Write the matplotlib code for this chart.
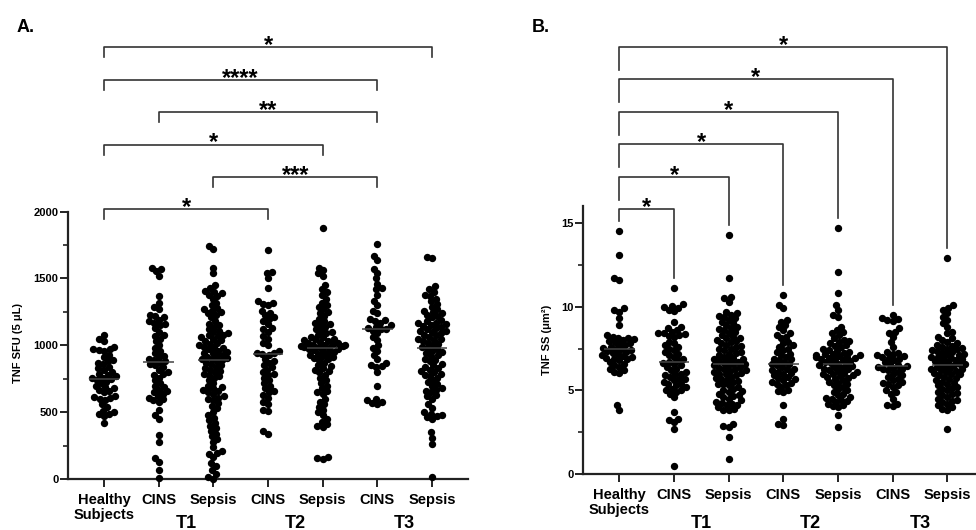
import matplotlib.pyplot as plt
import matplotlib.transforms as mtransforms
from matplotlib.ticker import MultipleLocator
import numpy as np
import pandas as pd
import seaborn as sns

groups = ['HS', 'CINS_T1', 'Sepsis_T1', 'CINS_T2', 'Sepsis_T2', 'CINS_T3', 'Sepsis_T3']
tick_labels = ['Healthy\nSubjects', 'CINS', 'Sepsis', 'CINS', 'Sepsis', 'CINS', 'Sepsis']
time_labels = ['T1', 'T2', 'T3']
time_pos = [1.5, 3.5, 5.5]

# TNF spot forming units per 5 uL
sfu_hs = [1080, 1050, 1030, 990, 975, 970, 965, 960, 930, 910, 890, 880, 870, 860, 840, 830,
          820, 800, 790, 780, 770, 760, 755, 750, 745, 730, 720, 700, 690, 680, 670, 660,
          650, 620, 615, 610, 600, 595, 560, 540, 510, 500, 490, 485, 470, 420]
sfu_cins_t1 = [1580, 1570, 1555, 1520, 1370, 1320, 1290, 1270, 1230, 1220, 1210, 1190, 1180,
               1170, 1160, 1150, 1130, 1100, 1080, 1070, 1050, 1030, 1000, 980, 960, 940, 920,
               910, 900, 890, 880, 870, 860, 850, 840, 820, 800, 790, 780, 760, 740, 720, 700,
               690, 670, 660, 650, 640, 620, 610, 600, 590, 580, 520, 480, 450, 330, 280, 160,
               130, 70, 10]
sfu_sepsis_t1 = [1740, 1720, 1580, 1540, 1450, 1430, 1410, 1400, 1390, 1380, 1370, 1350, 1320,
                 1300, 1280, 1270, 1260, 1250, 1240, 1230, 1210, 1180, 1160, 1150, 1140, 1120,
                 1110, 1100, 1090, 1080, 1075, 1070, 1060, 1050, 1040, 1030, 1020, 1010, 1000,
                 990, 985, 980, 970, 960, 950, 945, 940, 930, 920, 910, 905, 900, 895, 890, 880,
                 870, 860, 850, 840, 830, 820, 810, 800, 790, 780, 770, 760, 740, 720, 700, 690,
                 680, 670, 660, 650, 640, 620, 610, 600, 590, 570, 550, 530, 500, 480, 460, 440,
                 420, 400, 380, 360, 340, 320, 300, 280, 240, 210, 200, 190, 170, 120, 100, 70,
                 40, 20, 5]
sfu_cins_t2 = [1710, 1550, 1540, 1500, 1430, 1330, 1320, 1310, 1300, 1260, 1240, 1230, 1210,
               1200, 1180, 1160, 1130, 1120, 1100, 1070, 1050, 1020, 1000, 960, 945, 940, 935,
               930, 900, 880, 870, 850, 840, 820, 800, 790, 780, 760, 740, 720, 700, 680, 660,
               650, 630, 610, 580, 560, 520, 510, 360, 340]
sfu_sepsis_t2 = [1880, 1580, 1560, 1540, 1520, 1450, 1420, 1400, 1380, 1350, 1320, 1300, 1290,
                 1270, 1250, 1240, 1220, 1200, 1180, 1170, 1160, 1150, 1140, 1120, 1110, 1100,
                 1090, 1080, 1065, 1060, 1050, 1045, 1040, 1030, 1025, 1020, 1015, 1010, 1005,
                 1000, 1000, 995, 995, 990, 985, 980, 975, 970, 965, 960, 950, 940, 935, 930,
                 920, 910, 905, 900, 890, 870, 850, 845, 830, 820, 810, 800, 780, 760, 740, 720,
                 700, 680, 660, 650, 640, 600, 580, 560, 540, 520, 500, 480, 450, 430, 410, 400,
                 390, 170, 160, 155]
sfu_cins_t3 = [1760, 1670, 1640, 1570, 1540, 1500, 1460, 1430, 1420, 1380, 1330, 1300, 1260,
               1240, 1200, 1190, 1180, 1170, 1150, 1140, 1130, 1125, 1120, 1110, 1090, 1060,
               1040, 1000, 980, 960, 930, 900, 870, 850, 845, 840, 800, 700, 600, 590, 580, 570,
               560]
sfu_sepsis_t3 = [1660, 1655, 1440, 1420, 1400, 1380, 1370, 1350, 1330, 1310, 1290, 1270, 1260,
                 1250, 1240, 1230, 1220, 1210, 1190, 1180, 1170, 1165, 1160, 1150, 1145, 1140,
                 1130, 1120, 1110, 1105, 1100, 1090, 1080, 1075, 1060, 1050, 1045, 1040, 1030,
                 1020, 1010, 1000, 990, 980, 970, 960, 950, 940, 925, 920, 900, 890, 880, 860,
                 850, 840, 830, 820, 810, 800, 790, 780, 775, 760, 740, 725, 710, 700, 680, 670,
                 660, 650, 630, 620, 600, 560, 530, 500, 490, 480, 470, 465, 450, 350, 310, 260,
                 20]

# TNF spot size (um^2)
ss_hs = [14.5, 13.1, 11.7, 11.6, 9.9, 9.8, 9.7, 9.3, 8.9, 8.3, 8.2, 8.15, 8.1, 8.05, 8.0, 7.95,
         7.9, 7.8, 7.75, 7.7, 7.6, 7.55, 7.5, 7.45, 7.4, 7.35, 7.3, 7.25, 7.2, 7.1, 7.05, 7.0,
         6.95, 6.9, 6.85, 6.8, 6.7, 6.6, 6.5, 6.4, 6.3, 6.2, 6.1, 6.05, 4.1, 3.8]
ss_cins_t1 = [11.1, 10.15, 10.05, 10.0, 9.95, 9.8, 9.75, 9.1, 8.8, 8.7, 8.6, 8.5, 8.45, 8.4,
              8.35, 8.3, 8.25, 8.2, 7.9, 7.8, 7.7, 7.6, 7.5, 7.4, 7.3, 7.2, 7.1, 7.0, 6.9, 6.8,
              6.7, 6.65, 6.6, 6.5, 6.4, 6.3, 6.2, 6.1, 6.0, 5.95, 5.9, 5.8, 5.7, 5.65, 5.6, 5.5,
              5.4, 5.35, 5.3, 5.2, 5.1, 5.05, 5.0, 4.9, 4.8, 4.6, 3.7, 3.3, 3.2, 3.1, 2.7, 0.5]
ss_sepsis_t1 = [14.3, 11.7, 10.6, 10.5, 10.3, 9.7, 9.6, 9.5, 9.45, 9.4, 9.3, 9.2, 9.1, 9.0,
                8.9, 8.8, 8.7, 8.65, 8.6, 8.5, 8.4, 8.3, 8.2, 8.15, 8.1, 8.0, 7.95, 7.9, 7.8,
                7.7, 7.65, 7.6, 7.5, 7.45, 7.4, 7.3, 7.25, 7.2, 7.1, 7.0, 6.95, 6.9, 6.85, 6.8,
                6.75, 6.7, 6.65, 6.6, 6.55, 6.5, 6.45, 6.4, 6.35, 6.3, 6.25, 6.2, 6.15, 6.1,
                6.05, 6.0, 5.95, 5.9, 5.8, 5.75, 5.7, 5.6, 5.55, 5.5, 5.4, 5.35, 5.3, 5.2, 5.1,
                5.0, 4.95, 4.9, 4.8, 4.7, 4.65, 4.6, 4.5, 4.4, 4.3, 4.25, 4.2, 4.15, 4.1, 4.0,
                3.9, 3.85, 3.8, 3.0, 2.85, 2.8, 2.2, 0.9]
ss_cins_t2 = [10.7, 10.1, 9.9, 9.2, 9.1, 8.9, 8.8, 8.6, 8.4, 8.3, 8.2, 8.1, 7.9, 7.8, 7.7, 7.6,
              7.5, 7.4, 7.3, 7.2, 7.1, 7.0, 6.9, 6.85, 6.8, 6.7, 6.6, 6.55, 6.5, 6.4, 6.3, 6.25,
              6.2, 6.1, 6.05, 6.0, 5.9, 5.8, 5.75, 5.7, 5.6, 5.5, 5.45, 5.4, 5.3, 5.2, 5.0, 4.95,
              4.9, 4.1, 3.3, 3.0, 2.95]
ss_sepsis_t2 = [14.7, 12.1, 10.8, 10.1, 9.8, 9.5, 9.4, 8.8, 8.6, 8.5, 8.4, 8.3, 8.1, 8.0, 7.95,
                7.9, 7.8, 7.7, 7.65, 7.6, 7.5, 7.4, 7.35, 7.3, 7.25, 7.2, 7.15, 7.12, 7.1, 7.05,
                7.0, 6.98, 6.95, 6.92, 6.9, 6.85, 6.8, 6.75, 6.7, 6.65, 6.6, 6.55, 6.5, 6.45,
                6.4, 6.35, 6.3, 6.25, 6.2, 6.15, 6.1, 6.05, 6.0, 5.95, 5.9, 5.85, 5.8, 5.75, 5.7,
                5.6, 5.5, 5.45, 5.4, 5.3, 5.2, 5.1, 5.0, 4.9, 4.8, 4.7, 4.6, 4.55, 4.5, 4.4,
                4.35, 4.3, 4.2, 4.1, 4.05, 4.0, 3.5, 2.8]
ss_cins_t3 = [9.5, 9.3, 9.25, 9.2, 9.15, 8.7, 8.5, 8.45, 8.2, 7.9, 7.6, 7.3, 7.25, 7.2, 7.1,
              7.05, 7.0, 6.95, 6.9, 6.8, 6.7, 6.6, 6.5, 6.45, 6.4, 6.35, 6.3, 6.25, 6.2, 6.1,
              6.0, 5.9, 5.8, 5.7, 5.6, 5.5, 5.45, 5.4, 5.3, 5.2, 5.0, 4.9, 4.8, 4.5, 4.2, 4.1,
              4.05]
ss_sepsis_t3 = [12.9, 10.1, 9.95, 9.8, 9.6, 9.4, 9.2, 9.0, 8.8, 8.5, 8.4, 8.2, 8.1, 8.0, 7.9,
                7.8, 7.7, 7.65, 7.6, 7.55, 7.5, 7.45, 7.4, 7.35, 7.3, 7.25, 7.2, 7.15, 7.1, 7.0,
                6.98, 6.95, 6.9, 6.85, 6.8, 6.75, 6.7, 6.65, 6.6, 6.55, 6.5, 6.45, 6.4, 6.35,
                6.3, 6.25, 6.2, 6.15, 6.1, 6.05, 6.0, 5.95, 5.9, 5.8, 5.75, 5.7, 5.6, 5.5, 5.45,
                5.4, 5.3, 5.2, 5.15, 5.1, 5.0, 4.9, 4.85, 4.8, 4.7, 4.6, 4.5, 4.4, 4.35, 4.3,
                4.2, 4.1, 4.0, 3.9, 3.8, 2.7]

sfu_values = [sfu_hs, sfu_cins_t1, sfu_sepsis_t1, sfu_cins_t2, sfu_sepsis_t2, sfu_cins_t3, sfu_sepsis_t3]
ss_values = [ss_hs, ss_cins_t1, ss_sepsis_t1, ss_cins_t2, ss_sepsis_t2, ss_cins_t3, ss_sepsis_t3]

# significance comparisons, drawn from bottom to top
sfu_stats = [(0, 3, '*'), (2, 5, '***'), (0, 4, '*'), (1, 5, '**'), (0, 5, '****'), (0, 6, '*')]
ss_stats = [(0, 1, '*'), (0, 2, '*'), (0, 3, '*'), (0, 4, '*'), (0, 5, '*'), (0, 6, '*')]

plt.rcParams['font.family'] = ['Liberation Sans', 'DejaVu Sans']
plt.rcParams['font.weight'] = 'bold'

fig = plt.figure(figsize=(9.76, 5.30), dpi=100)
W, H = 976, 530


def px_axes(left, bottom, width, height):
    return fig.add_axes([left / W, 1 - bottom / H, width / W, height / H])


def draw_swarm(ax, values, ymax, major, minor):
    df = pd.DataFrame({'group': np.repeat(groups, [len(v) for v in values]),
                       'value': np.concatenate(values)})
    ax.set_ylim(0, ymax)
    # lay the swarm out with small dots, then redraw bigger ones so they overlap a bit
    sns.swarmplot(data=df, x='group', y='value', order=groups, color='black',
                  size=3.9, linewidth=0, ax=ax)
    fig.canvas.draw()
    offsets = [c.get_offsets().copy() for c in ax.collections]
    for c in list(ax.collections):
        c.remove()
    for xy in offsets:
        ax.scatter(xy[:, 0], xy[:, 1], s=5.3 ** 2, color='black', linewidths=0,
                   zorder=3, clip_on=False)
    for i, v in enumerate(values):
        ax.hlines(np.median(v), i - 0.28, i + 0.28, color='#444444', lw=1.1, zorder=4)
    ax.set_xlim(-0.66, 6.66)
    ax.set_ylim(0, ymax)
    ax.yaxis.set_major_locator(MultipleLocator(major))
    ax.yaxis.set_minor_locator(MultipleLocator(minor))
    ax.set_xticks(range(len(groups)))
    ax.set_xticklabels(tick_labels, fontsize=10.5, fontweight='bold', linespacing=1.1)
    ax.set_xlabel('')
    ax.set_ylabel('')
    for s in ['top', 'right']:
        ax.spines[s].set_visible(False)
    for s in ['left', 'bottom']:
        ax.spines[s].set_linewidth(1.6)
        ax.spines[s].set_color('#222222')
    ax.tick_params(axis='both', which='major', length=6, width=1.4, color='#222222')
    ax.tick_params(axis='y', which='minor', length=3.5, width=1.2, color='#222222')
    ax.tick_params(axis='y', labelsize=8, pad=1)
    ax.tick_params(axis='x', pad=4)
    tr = mtransforms.blended_transform_factory(ax.transData, fig.transFigure)
    for x, lab in zip(time_pos, time_labels):
        ax.text(x, 1 - 523 / H, lab, transform=tr, ha='center', va='center',
                fontsize=13, fontweight='bold')


def draw_stats(ax, values, stats, base, step, left_leg, right_leg):
    for k, (a, b, label) in enumerate(stats):
        y = base + k * step
        ax.plot([a, a, b, b], [left_leg(k, a, y), y, y, right_leg(k, b, y)],
                color='#333333', lw=1.2, clip_on=False, zorder=5)
        ax.annotate(label, ((a + b) / 2, y), xytext=(0, -3.5), textcoords='offset points',
                    ha='center', va='baseline', fontsize=17, fontweight='bold',
                    annotation_clip=False)


# panel A
axA = px_axes(68, 479.3, 400, 267.8)
draw_swarm(axA, sfu_values, 2000, 500, 250)
leg_a = 75
draw_stats(axA, sfu_values, sfu_stats, 2016, 242,
           lambda k, a, y: y - leg_a, lambda k, b, y: y - leg_a)

# panel B
axB = px_axes(583.3, 474, 400, 267.7)
draw_swarm(axB, ss_values, 16, 5, 2.5)
draw_stats(axB, ss_values, ss_stats, 15.82, 1.94,
           lambda k, a, y: max(y - 1.37, max(ss_values[a]) + 0.6),
           lambda k, b, y: max(ss_values[b]) + 0.6)

fig.text(18 / W, 1 - 343 / H, 'TNF SFU (5 \u03bcL)', rotation=90, ha='center', va='center',
         fontsize=8, fontweight='bold')
fig.text(547 / W, 1 - 340 / H, 'TNF SS (\u03bcm\u00b2)', rotation=90, ha='center', va='center',
         fontsize=8, fontweight='bold')
fig.text(17 / W, 1 - 32 / H, 'A.', fontsize=13, fontweight='bold', ha='left', va='baseline')
fig.text(532 / W, 1 - 32 / H, 'B.', fontsize=13, fontweight='bold', ha='left', va='baseline')

fig.savefig('out.png', dpi=100)
